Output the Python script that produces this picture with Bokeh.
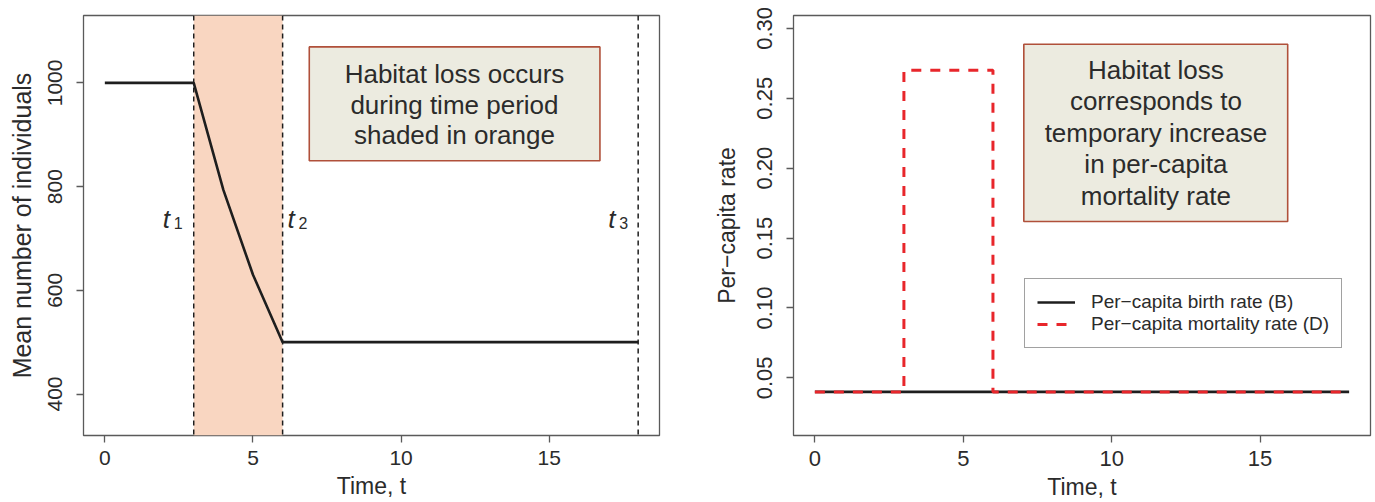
from bokeh.plotting import figure
from bokeh.layouts import row
from bokeh.models import (Range1d, FixedTicker, BoxAnnotation, Label, Span,
                          Legend, LegendItem, NumeralTickFormatter)
from bokeh.embed import file_html
from bokeh.resources import INLINE

# ---------------- data ----------------
time = list(range(19))
population = [1000, 1000, 1000, 1000, 793.7, 630.0, 500, 500, 500, 500,
              500, 500, 500, 500, 500, 500, 500, 500, 500]
birth_time = [0, 18]
birth_rate = [0.04, 0.04]
mort_time = [0, 3, 3, 6, 6, 18]
mort_rate = [0.04, 0.04, 0.27, 0.27, 0.04, 0.04]
period_lines = [3, 6, 18]
period_subs = ["1", "2", "3"]
shade_period = [3, 6]
time_ticks = [0, 5, 10, 15]
pop_ticks = [400, 600, 800, 1000]
rate_ticks = [0.05, 0.10, 0.15, 0.20, 0.25, 0.30]
left_note = "Habitat loss occurs\nduring time period\nshaded in orange"
right_note = "Habitat loss\ncorresponds to\ntemporary increase\nin per-capita\nmortality rate"
legend_labels = ["Per\u2212capita birth rate (B)", "Per\u2212capita mortality rate (D)"]
x_title = "Time, t"

# ---------------- style ----------------
FRAME_H = 420
X_RANGE = (-0.72, 18.72)
POP_RANGE = (320, 1130)
RATE_RANGE = (0.0088, 0.3092)
FONT = "Liberation Sans"
TEXT = "#2b2b2b"
FRAME = "#5a5a5a"
LINE = "#1e1e1e"
RED = "#e8262b"
BOX_FILL = "#ecebe0"
BOX_LINE = "#b0503a"


def at_px(rng, px_from_top):
    lo, hi = rng
    return hi - px_from_top * (hi - lo) / FRAME_H


def style(p, ylabel, ylabel_size, tick_size, title_standoff):
    p.outline_line_color = FRAME
    p.outline_line_width = 1.3
    p.grid.visible = False
    p.background_fill_color = "white"
    p.border_fill_color = "white"
    for ax in p.axis:
        ax.axis_line_color = None
        ax.major_tick_out = 7
        ax.major_tick_in = 0
        ax.major_tick_line_color = FRAME
        ax.major_tick_line_width = 1.3
        ax.minor_tick_line_color = None
        ax.major_label_text_font = FONT
        ax.major_label_text_font_size = tick_size
        ax.major_label_text_color = TEXT
        ax.axis_label_text_font = FONT
        ax.axis_label_text_font_style = "normal"
        ax.axis_label_text_color = TEXT
    p.xaxis.ticker = FixedTicker(ticks=time_ticks)
    p.xaxis.major_label_standoff = 8
    p.xaxis.axis_label = x_title
    p.xaxis.axis_label_text_font_size = "23px"
    p.xaxis.axis_label_standoff = 5
    p.yaxis.axis_label = ylabel
    p.yaxis.axis_label_text_font_size = ylabel_size
    p.yaxis.axis_label_standoff = title_standoff
    p.yaxis.major_label_standoff = 14
    p.yaxis.major_label_orientation = "vertical"


# ---------------- left panel ----------------
p1 = figure(width=706, height=502, x_range=Range1d(*X_RANGE),
            y_range=Range1d(*POP_RANGE), output_backend="svg",
            toolbar_location=None, min_border_left=83, min_border_right=47,
            min_border_top=15, min_border_bottom=67)
p1.yaxis.ticker = FixedTicker(ticks=pop_ticks)

p1.add_layout(BoxAnnotation(left=shade_period[0], right=shade_period[1],
                            fill_color="#f9d6c1", fill_alpha=1.0,
                            line_color=None, level="underlay"))
for xl in period_lines:
    p1.add_layout(Span(location=xl, dimension="height", line_color=LINE,
                       line_width=1.5, line_dash="5 4"))
p1.line(time, population, line_color=LINE, line_width=2.6)

# left note box
p1.add_layout(BoxAnnotation(left=6.9, right=16.71, top=1069.4, bottom=850,
                            fill_color=BOX_FILL, fill_alpha=1.0,
                            line_color=BOX_LINE, line_alpha=1.0,
                            line_width=1.6))
p1.add_layout(Label(x=11.8, y=958, text=left_note, text_font=FONT,
                    text_font_size="26px", text_color=TEXT,
                    text_align="center", text_baseline="middle",
                    text_line_height=1.02))

# t labels
t_dx = [-31, 5, -30]
for xl, sub, dx in zip(period_lines, period_subs, t_dx):
    p1.add_layout(Label(x=xl, y=at_px(POP_RANGE, 203), x_offset=dx,
                        text="t", text_font=FONT, text_font_size="26px",
                        text_font_style="italic", text_color=TEXT,
                        text_align="left", text_baseline="alphabetic"))
    p1.add_layout(Label(x=xl, y=at_px(POP_RANGE, 207), x_offset=dx + 11,
                        text=sub, text_font=FONT, text_font_size="16px",
                        text_color=TEXT,
                        text_align="left", text_baseline="alphabetic"))

# ---------------- right panel ----------------
p2 = figure(width=669, height=502, x_range=Range1d(*X_RANGE),
            y_range=Range1d(*RATE_RANGE), output_backend="svg",
            toolbar_location=None, min_border_left=87, min_border_right=5,
            min_border_top=15, min_border_bottom=67)
p2.yaxis.ticker = FixedTicker(ticks=rate_ticks)
p2.yaxis.formatter = NumeralTickFormatter(format="0.00")

rb = p2.line(birth_time, birth_rate, line_color=LINE, line_width=2.6)
rd = p2.line(mort_time, mort_rate, line_color=RED, line_width=3,
             line_dash="10 9")

p2.add_layout(BoxAnnotation(left=7.04, right=15.93, top=0.2886, bottom=0.1619,
                            fill_color=BOX_FILL, fill_alpha=1.0,
                            line_color=BOX_LINE, line_alpha=1.0,
                            line_width=1.6))
p2.add_layout(Label(x=11.49, y=0.2253, text=right_note, text_font=FONT,
                    text_font_size="26px", text_color=TEXT,
                    text_align="center", text_baseline="middle",
                    text_line_height=1.05))

legend = Legend(items=[LegendItem(label=legend_labels[0], renderers=[rb]),
                       LegendItem(label=legend_labels[1], renderers=[rd])],
                location=(231, 87), border_line_color="#444444",
                border_line_width=1.2, background_fill_alpha=1.0,
                label_text_font=FONT, label_text_font_size="19px",
                label_text_color=TEXT, glyph_width=38, label_standoff=16,
                padding=12, spacing=0, margin=0)
p2.add_layout(legend)

style(p1, "Mean number of individuals", "25px", "21px", 10)
style(p2, "Per\u2212capita rate", "23px", "22px", 15)

layout = row(p1, p2)
open("out.html", "w").write(file_html(layout, INLINE))
